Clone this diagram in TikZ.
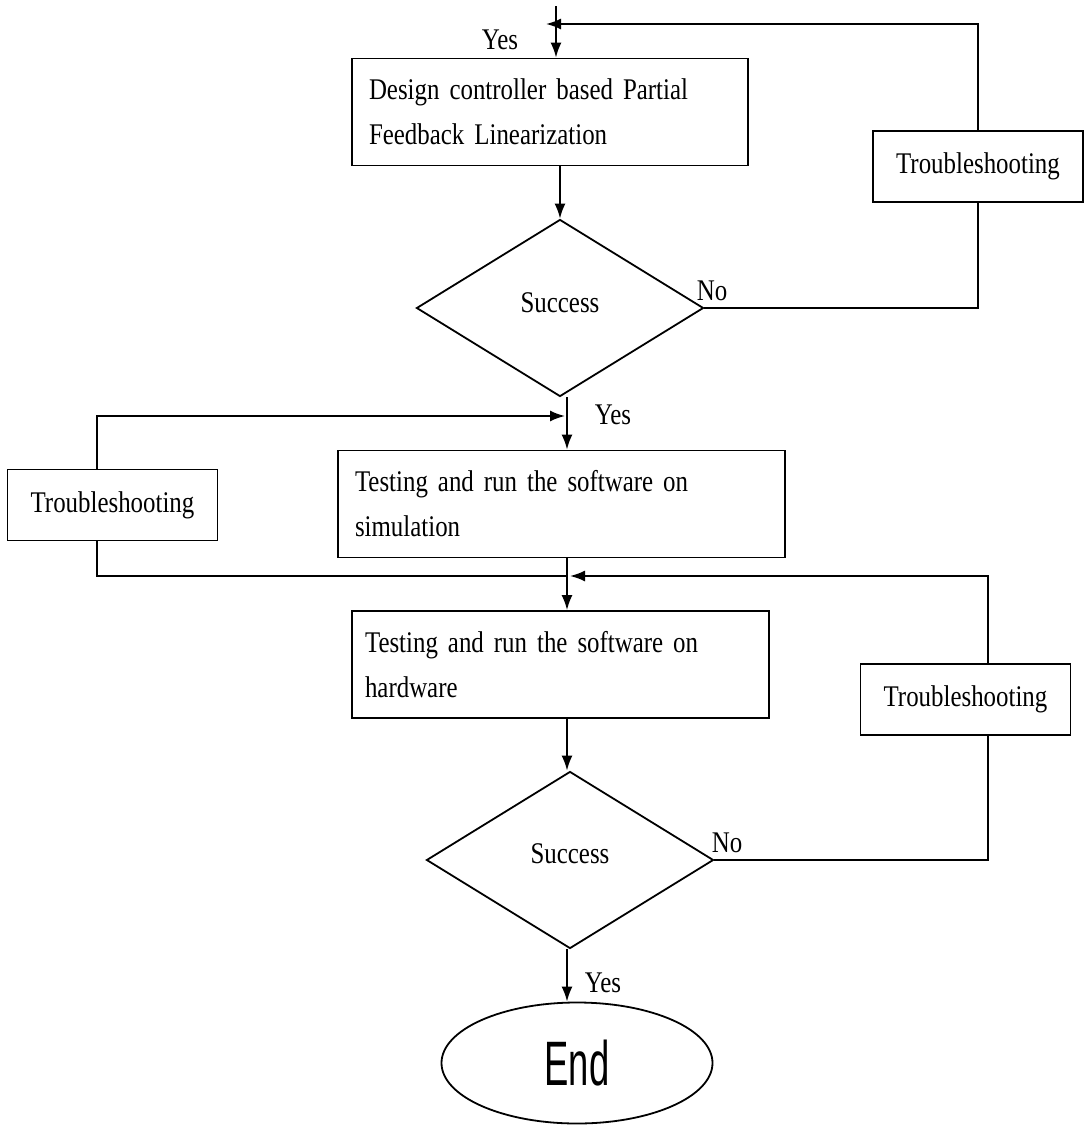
\documentclass[tikz,border=0pt]{standalone}
\usepackage{fontspec}
\setmainfont[FakeStretch=0.83,WordSpace=0.8]{Liberation Serif}
\newfontfamily\endfont[FakeStretch=0.58]{Liberation Sans}
\usepackage{tikz}
\usetikzlibrary{arrows.meta,positioning,shapes.geometric,calc}

\begin{document}
\begin{tikzpicture}[x=0.5pt,y=-0.5pt,>={Latex[length=7.5pt,width=5.5pt]},line width=0.9pt,
  font=\fontsize{15}{22.5}\selectfont]
\tikzstyle{box}=[draw, align=left, minimum height=53.5pt, inner xsep=8.5pt]
\tikzstyle{tsbox}=[draw, align=center, minimum width=105pt, minimum height=35.5pt, inner sep=0pt]
\tikzstyle{decision}=[draw, diamond, minimum width=143.5pt, minimum height=88.5pt, inner sep=0pt]
\tikzstyle{lbl}=[inner sep=0pt]
\useasboundingbox (0,0) rectangle (1086,1125);
% main column
\node[box, text width=181pt] (design) at (550,112) {Design controller based Partial\\Feedback Linearization};
\node[decision] (dec1) at (560,308) {\raisebox{5pt}{Success}};
\node[box, text width=206.5pt] (sim) at (561.5,504) {Testing and run the software on\\simulation};
\node[box, text width=195.5pt, inner xsep=6.5pt] (hw) at (560.5,664.5) {Testing and run the software on\\hardware};
\node[decision] (dec2) at (570,860) {\raisebox{6pt}{Success}};
\node[draw, ellipse, minimum width=135.5pt, minimum height=60.5pt, inner sep=0pt,
  font=\endfont\fontsize{31.4}{32}\selectfont] (endnode) at (577,1063) {End};
% troubleshooting boxes
\node[tsbox] (ts1) at (978,166.5) {Troubleshooting};
\node[tsbox] (ts2) at (112.5,505) {Troubleshooting};
\node[tsbox] (ts3) at (965.5,699.5) {Troubleshooting};
% labels
\node[lbl] (yes1) at (500,40) {Yes};
\node[lbl] (no1) at (712,291) {No};
\node[lbl] (yes2) at (613,415) {Yes};
\node[lbl] (no2) at (727,843) {No};
\node[lbl] (yes3) at (603,983) {Yes};
% joins
\coordinate (top) at (556,6);
\coordinate (col) at (567,0);
\coordinate (join1) at (546,24);
\coordinate (join2) at (565,416);
\coordinate (join3) at (567,576);
\coordinate (join4) at (570,576);
% arrows
\draw[->] (top) -- (top |- design.north);
\draw[->] (dec1.north |- design.south) -- (dec1.north);
\draw (dec1.east) -| (ts1.south);
\draw[->] (ts1.north) |- (join1);
\draw[->] (col |- dec1.south) -- (col |- sim.north);
\draw[->] ($(ts2.north)+(-15.5,0)$) |- (join2);
\draw ($(ts2.south)+(-15.5,0)$) |- (join3);
\draw[->] (col |- sim.south) -- (col |- hw.north);
\draw[->] ($(ts3.north)+(22.5,0)$) |- (join4);
\draw[->] (col |- hw.south) -- (col |- dec2.north);
\draw (dec2.east) -| ($(ts3.south)+(22.5,0)$);
\draw[->] (col |- dec2.south) -- (col |- endnode.north);
\end{tikzpicture}
\end{document}
